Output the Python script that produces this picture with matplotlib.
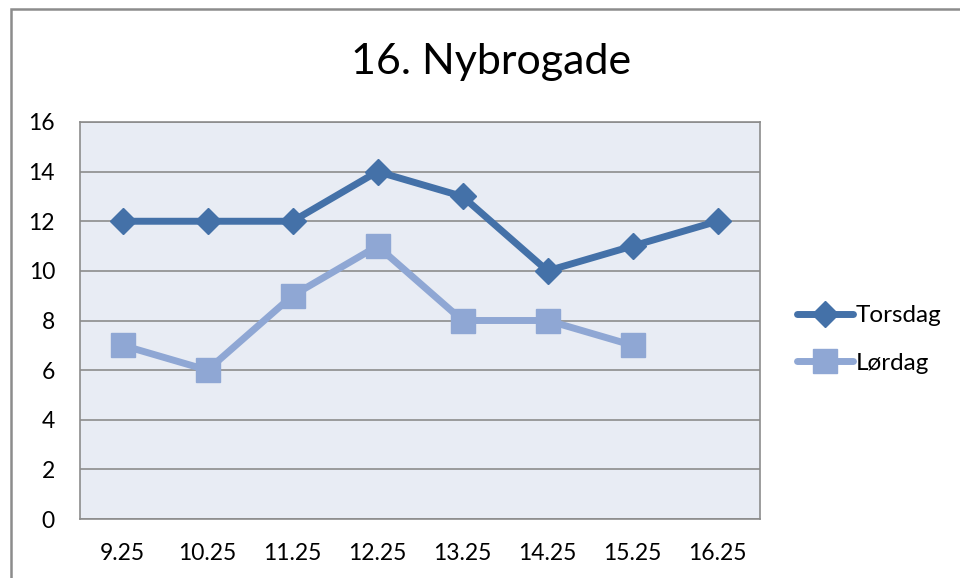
import matplotlib
matplotlib.use("Agg")
import matplotlib.pyplot as plt
from matplotlib.patches import Rectangle

categories = ["9.25", "10.25", "11.25", "12.25", "13.25", "14.25", "15.25", "16.25"]
torsdag = [12, 12, 12, 14, 13, 10, 11, 12]
lordag = [7, 6, 9, 11, 8, 8, 7]
yticks = [0, 2, 4, 6, 8, 10, 12, 14, 16]

plt.rcParams['font.family'] = ['Lato', 'DejaVu Sans']

fig = plt.figure(figsize=(9.6, 5.78), dpi=100)
fig.patches.append(Rectangle((11/960, -0.1), 1.2, (578-9)/578 + 0.1, transform=fig.transFigure,
                             fill=False, edgecolor='#8c8c8c', linewidth=1.8))
ax = fig.add_axes([80/960, 59/578, 680/960, 397/578])
ax.set_facecolor('#e8ecf4')
x = list(range(len(categories)))
ax.plot(x, torsdag, color='#4471a8', linewidth=5, marker='D', markersize=13.5,
        solid_capstyle='round', solid_joinstyle='round', label='Torsdag')
ax.plot(x[:len(lordag)], lordag, color='#8fa7d4', linewidth=5, marker='s', markersize=17.5,
        solid_capstyle='round', solid_joinstyle='round', label='Lørdag')
ax.set_xlim(-0.5, len(categories) - 0.5)
ax.set_ylim(0, 16)
ax.set_yticks(yticks)
ax.set_xticks(x)
ax.set_xticklabels(categories)
ax.yaxis.grid(True, color='#8c8c8c', linewidth=1.2)
ax.set_axisbelow(True)
ax.tick_params(length=0, labelsize=16.5, pad=17)
ax.tick_params(axis='y', pad=18)
for s in ax.spines.values():
    s.set_color('#8c8c8c')
    s.set_linewidth(1.2)
fig.text(491/960, 1 - 62/578, "16. Nybrogade", ha='center', va='center', fontsize=31)
leg = ax.legend(loc='center left', bbox_to_anchor=((797 - 80) / 680, (519 - 339.5) / 397),
                frameon=False, fontsize=17.5, borderpad=0, borderaxespad=0,
                handlelength=2.3, handletextpad=0.1, labelspacing=1.1)
fig.savefig("out.png", dpi=100)
